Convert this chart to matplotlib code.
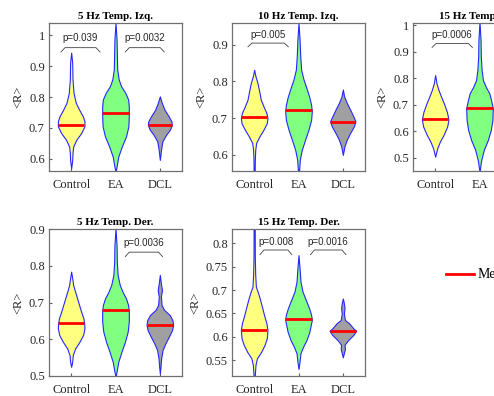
import matplotlib
matplotlib.use("Agg")
import matplotlib.pyplot as plt
import numpy as np
from matplotlib.lines import Line2D

groups = ["Control", "EA", "DCL"]
fill_colors = ["#ffff80", "#80ff80", "#a0a0a0"]

# 5 Hz Temp. Izq.  (y levels of the outline, relative half-width)
izq5_control_y = [0.944, 0.911, 0.857, 0.813, 0.781, 0.759, 0.737, 0.721, 0.705, 0.683, 0.661, 0.639, 0.618, 0.596, 0.569]
izq5_control_w = [0, .08, .1, .18, .35, .6, .88, 1, 1, .75, .38, .15, .1, .08, 0]
izq5_ea_y = [1.041, 0.987, 0.944, 0.889, 0.857, 0.835, 0.813, 0.792, 0.770, 0.737, 0.705, 0.672, 0.639, 0.607, 0.574, 0.558]
izq5_ea_w = [0, .08, .1, .13, .24, .42, .74, .95, 1, 1, .97, .79, .47, .21, .08, 0]
izq5_dcl_y = [0.802, 0.781, 0.759, 0.737, 0.721, 0.710, 0.694, 0.678, 0.656, 0.629, 0.596]
izq5_dcl_w = [0, .15, .35, .67, .87, .9, .76, .48, .19, .09, 0]
izq5_medians = [0.710, 0.748, 0.710]

# 10 Hz Temp. Izq.
izq10_control_y = [0.832, 0.814, 0.796, 0.773, 0.750, 0.732, 0.714, 0.700, 0.686, 0.668, 0.650, 0.632, 0.613, 0.586, 0.554, 0.540]
izq10_control_w = [0, .1, .25, .38, .5, .7, .92, 1, .95, .7, .4, .15, .08, .05, .04, 0]
izq10_ea_y = [0.960, 0.915, 0.869, 0.832, 0.805, 0.787, 0.759, 0.736, 0.718, 0.695, 0.668, 0.641, 0.613, 0.586, 0.554, 0.540]
izq10_ea_w = [0, .08, .13, .2, .38, .55, .8, .95, 1, .95, .75, .5, .25, .1, .04, 0]
izq10_dcl_y = [0.778, 0.759, 0.741, 0.723, 0.704, 0.691, 0.677, 0.659, 0.641, 0.622, 0.599]
izq10_dcl_w = [0, .1, .3, .55, .8, .95, .83, .55, .3, .12, 0]
izq10_medians = [0.702, 0.721, 0.689]

# 15 Hz Temp. Izq. (DCL violin lies outside the picture)
izq15_control_y = [0.812, 0.781, 0.756, 0.730, 0.706, 0.674, 0.645, 0.618, 0.586, 0.561, 0.536, 0.505]
izq15_control_w = [0, .1, .25, .45, .65, .88, 1, .9, .62, .35, .15, 0]
izq15_ea_y = [1.012, 0.944, 0.881, 0.831, 0.793, 0.768, 0.743, 0.718, 0.687, 0.643, 0.605, 0.568, 0.530, 0.492, 0.449]
izq15_ea_w = [0, .08, .1, .16, .26, .47, .74, .87, 1, .97, .85, .63, .32, .13, 0]
izq15_medians = [0.645, 0.687]

# 5 Hz Temp. Der.
der5_control_y = [0.784, 0.766, 0.748, 0.729, 0.711, 0.693, 0.675, 0.657, 0.643, 0.630, 0.612, 0.593, 0.575, 0.557, 0.539, 0.525]
der5_control_w = [0, .08, .15, .3, .45, .6, .75, .92, .98, 1, .9, .62, .3, .12, .08, 0]
der5_ea_y = [0.902, 0.856, 0.811, 0.775, 0.748, 0.729, 0.711, 0.693, 0.675, 0.648, 0.621, 0.593, 0.566, 0.539, 0.512, 0.498]
der5_ea_w = [0, .08, .1, .16, .32, .53, .79, .95, 1, 1, .92, .71, .45, .21, .08, 0]
der5_dcl_y = [0.775, 0.752, 0.734, 0.716, 0.693, 0.680, 0.666, 0.652, 0.639, 0.625, 0.607, 0.589, 0.571, 0.548, 0.525, 0.507]
der5_dcl_w = [0, .08, .16, .08, .13, .32, .74, .95, 1, .92, .68, .42, .21, .1, .05, 0]
der5_medians = [0.643, 0.680, 0.639]

# 15 Hz Temp. Der.
der15_control_y = [0.840, 0.768, 0.732, 0.707, 0.697, 0.682, 0.665, 0.647, 0.629, 0.615, 0.597, 0.583, 0.568, 0.554, 0.540, 0.515, 0.505]
der15_control_w = [.04, .05, .08, .13, .26, .42, .58, .74, .92, 1, .95, .79, .53, .21, .1, .04, 0]
der15_ea_y = [0.775, 0.747, 0.718, 0.697, 0.679, 0.661, 0.647, 0.636, 0.629, 0.611, 0.593, 0.579, 0.565, 0.547, 0.531]
der15_ea_w = [0, .08, .15, .3, .55, .8, .95, 1, .95, .82, .6, .35, .15, .08, 0]
der15_dcl_y = [0.682, 0.672, 0.661, 0.650, 0.636, 0.629, 0.618, 0.613, 0.604, 0.593, 0.583, 0.574, 0.565, 0.556]
der15_dcl_w = [0, .08, .13, .08, .16, .47, .79, 1, .79, .4, .13, .16, .08, 0]
der15_medians = [0.615, 0.638, 0.613]

# p-value brackets: (x start, x end, label)
izq5_brackets = [(0.77, 1.65, "p=0.039"), (2.22, 3.10, "p=0.0032")]
izq10_brackets = [(0.86, 1.77, "p=0.005")]
izq15_brackets = [(0.93, 1.84, "p=0.0006")]
der5_brackets = [(2.22, 3.06, "p=0.0036")]
der15_brackets = [(1.13, 1.85, "p=0.008"), (2.27, 3.07, "p=0.0016")]

# bracket heights: (top, ends, text)
izq5_bh = (0.960, 0.946, 0.990)
izq10_bh = (0.905, 0.895, 0.928)
izq15_bh = (0.931, 0.916, 0.962)
der5_bh = (0.837, 0.825, 0.861)
der15_bh = (0.786, 0.776, 0.803)

izq5_ticks = [0.6, 0.7, 0.8, 0.9, 1.0]
izq10_ticks = [0.6, 0.7, 0.8, 0.9]
izq15_ticks = [0.5, 0.6, 0.7, 0.8, 0.9, 1.0]
der5_ticks = [0.5, 0.6, 0.7, 0.8, 0.9]
der15_ticks = [0.55, 0.6, 0.65, 0.7, 0.75, 0.8]

SERIF = "Liberation Serif"
SANS = "Liberation Sans"
TXT = "#262626"
HALF = 0.3


def draw_violin(ax, pos, ys, ws, med, color):
    ys = np.asarray(ys)
    ws = np.asarray(ws) * HALF
    ax.fill_betweenx(ys, pos - ws, pos + ws, facecolor=color,
                     edgecolor="#2626ff", linewidth=0.8, zorder=2)
    hw = np.interp(med, ys[::-1], ws[::-1])
    ax.plot([pos - hw, pos + hw], [med, med], color="red", lw=2, zorder=3,
            solid_capstyle="butt")


def draw_brackets(ax, brackets, heights):
    top, end, ty = heights
    for x0, x1, label in brackets:
        d = 0.09
        ax.plot([x0, x0 + d, x1 - d, x1], [end, top, top, end],
                color="#404040", lw=0.6, zorder=4)
        ax.text((x0 + x1) / 2, ty, label, ha="center", va="center",
                fontsize=7, family=SANS, color="#262626")


def style_axes(ax, title, ylim, ticks):
    ax.set_xlim(0.5, 3.5)
    ax.set_ylim(*ylim)
    ax.set_xticks([1, 2, 3])
    ax.set_xticklabels(groups)
    ax.set_yticks(ticks)
    ax.set_yticklabels(["%g" % t for t in ticks])
    for lab in ax.get_xticklabels() + ax.get_yticklabels():
        lab.set_family(SERIF)
        lab.set_fontsize(9)
        lab.set_color(TXT)
    ax.tick_params(direction="in", length=2, color="#606060", pad=3)
    ax.tick_params(axis="x", pad=5.5)
    for s in ax.spines.values():
        s.set_color("#707070")
        s.set_linewidth(0.9)
    ax.set_title(title, fontsize=8, fontweight="bold", family=SERIF,
                 color="black", pad=3)
    ax.set_ylabel("<R>", family=SERIF, fontsize=9, color=TXT, labelpad=3)


fig = plt.figure(figsize=(4.94, 3.96), dpi=100)
fig.patch.set_facecolor("white")

W = 133 / 494
H = 148 / 396
ax1 = fig.add_axes([49 / 494, 225 / 396, W, H])
ax2 = fig.add_axes([232 / 494, 225 / 396, W, H])
ax3 = fig.add_axes([413 / 494, 225 / 396, W, H])
ax4 = fig.add_axes([49 / 494, 20 / 396, W, 147 / 396])
ax5 = fig.add_axes([232 / 494, 20 / 396, W, 147 / 396])

panels = [
    (ax1, "5 Hz Temp. Izq.", (0.56, 1.04), izq5_ticks,
     [(izq5_control_y, izq5_control_w), (izq5_ea_y, izq5_ea_w), (izq5_dcl_y, izq5_dcl_w)],
     izq5_medians, izq5_brackets, izq5_bh),
    (ax2, "10 Hz Temp. Izq.", (0.555, 0.96), izq10_ticks,
     [(izq10_control_y, izq10_control_w), (izq10_ea_y, izq10_ea_w), (izq10_dcl_y, izq10_dcl_w)],
     izq10_medians, izq10_brackets, izq10_bh),
    (ax3, "15 Hz Temp. Izq.", (0.451, 1.008), izq15_ticks,
     [(izq15_control_y, izq15_control_w), (izq15_ea_y, izq15_ea_w)],
     izq15_medians, izq15_brackets, izq15_bh),
    (ax4, "5 Hz Temp. Der.", (0.5, 0.9), der5_ticks,
     [(der5_control_y, der5_control_w), (der5_ea_y, der5_ea_w), (der5_dcl_y, der5_dcl_w)],
     der5_medians, der5_brackets, der5_bh),
    (ax5, "15 Hz Temp. Der.", (0.516, 0.831), der15_ticks,
     [(der15_control_y, der15_control_w), (der15_ea_y, der15_ea_w), (der15_dcl_y, der15_dcl_w)],
     der15_medians, der15_brackets, der15_bh),
]

for ax, title, ylim, ticks, profiles, meds, brackets, bh in panels:
    for i, (ys, ws) in enumerate(profiles):
        draw_violin(ax, i + 1, ys, ws, meds[i], fill_colors[i])
    draw_brackets(ax, brackets, bh)
    style_axes(ax, title, ylim, ticks)

handle = Line2D([], [], color="red", lw=2)
fig.legend([handle], ["Mean"], loc="center left", bbox_to_anchor=(446 / 494, 1 - 275 / 396),
           frameon=False, borderpad=0, borderaxespad=0, handlelength=2,
           handletextpad=0.3, prop={"family": SERIF, "size": 10})

fig.savefig("out.png", dpi=100)
